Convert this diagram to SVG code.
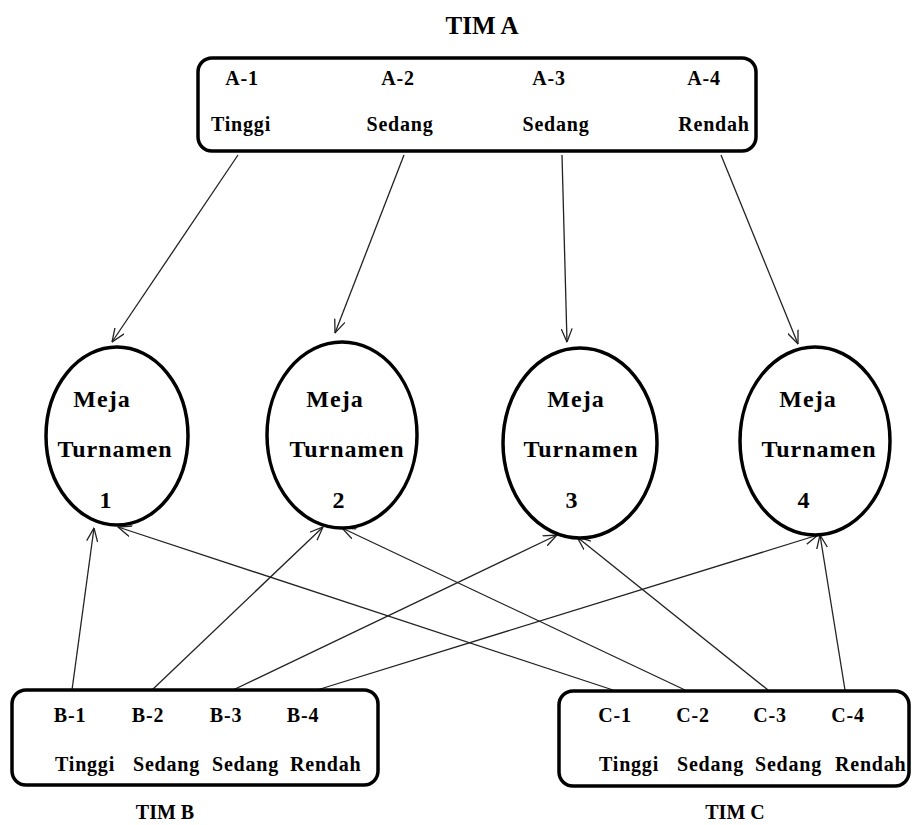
<svg xmlns="http://www.w3.org/2000/svg" width="912" height="825" viewBox="0 0 912 825">
<defs>
<style>
.t{font-family:"Liberation Serif","Times New Roman",serif;font-weight:bold;fill:#000}
.s{font-size:20px;letter-spacing:0.8px}
.e{font-size:24px;letter-spacing:1px;text-anchor:middle}
.m{text-anchor:middle}
.box{fill:#fff;stroke:#000;stroke-width:3.5}
.conn line{stroke:#222;stroke-width:1.3;fill:none;marker-end:url(#arr)}
</style>
<marker id="arr" viewBox="0 0 14 12" refX="13.5" refY="6" markerWidth="14" markerHeight="12" markerUnits="userSpaceOnUse" orient="auto">
<path d="M0,0.5 L13.5,6 L0,11.5" fill="none" stroke="#222" stroke-width="1.3"/>
</marker>
</defs>
<rect width="912" height="825" fill="#fff"/>

<g class="conn" id="connectors">
<line x1="238" y1="155" x2="112" y2="342"/>
<line x1="404" y1="155" x2="335" y2="333"/>
<line x1="562" y1="155" x2="567" y2="342"/>
<line x1="721" y1="155" x2="798" y2="344"/>
<line x1="72" y1="690" x2="94" y2="528"/>
<line x1="152" y1="690" x2="323" y2="527"/>
<line x1="233" y1="690" x2="557" y2="535"/>
<line x1="317" y1="690" x2="818" y2="535"/>
<line x1="613" y1="690" x2="118" y2="527"/>
<line x1="685" y1="690" x2="342" y2="528"/>
<line x1="768" y1="690" x2="577" y2="537"/>
<line x1="845" y1="690" x2="820" y2="535"/>
</g>

<g id="timA">
<text class="t m" x="482" y="34" font-size="25">TIM A</text>
<rect class="box" x="198" y="58" width="558" height="93" rx="14"/>
<text class="t s m" x="242" y="85">A-1</text>
<text class="t s m" x="398" y="85">A-2</text>
<text class="t s m" x="549" y="85">A-3</text>
<text class="t s m" x="704" y="85">A-4</text>
<text class="t s m" x="241" y="131">Tinggi</text>
<text class="t s m" x="400" y="131">Sedang</text>
<text class="t s m" x="556" y="131">Sedang</text>
<text class="t s m" x="714" y="131">Rendah</text>
</g>

<g id="meja1">
<ellipse class="box" cx="117" cy="436" rx="71" ry="89"/>
<text class="t e" x="102" y="407">Meja</text>
<text class="t e" x="115" y="457">Turnamen</text>
<text class="t e" x="106" y="508">1</text>
</g>
<g id="meja2">
<ellipse class="box" cx="342" cy="435" rx="75" ry="93"/>
<text class="t e" x="335" y="407">Meja</text>
<text class="t e" x="347" y="457">Turnamen</text>
<text class="t e" x="339" y="508">2</text>
</g>
<g id="meja3">
<ellipse class="box" cx="580" cy="443" rx="77" ry="95"/>
<text class="t e" x="576" y="407">Meja</text>
<text class="t e" x="581" y="457">Turnamen</text>
<text class="t e" x="572" y="508">3</text>
</g>
<g id="meja4">
<ellipse class="box" cx="815" cy="441" rx="75" ry="94"/>
<text class="t e" x="808" y="407">Meja</text>
<text class="t e" x="819" y="457">Turnamen</text>
<text class="t e" x="804" y="508">4</text>
</g>

<g id="timB">
<rect class="box" x="12" y="690" width="366" height="95" rx="14"/>
<text class="t s m" x="70" y="722">B-1</text>
<text class="t s m" x="148" y="722">B-2</text>
<text class="t s m" x="226" y="722">B-3</text>
<text class="t s m" x="303" y="722">B-4</text>
<text class="t s" x="55" y="771">Tinggi</text>
<text class="t s" x="133" y="771">Sedang</text>
<text class="t s" x="212" y="771">Sedang</text>
<text class="t s" x="290" y="771">Rendah</text>
<text class="t m" x="165" y="819" font-size="20">TIM B</text>
</g>

<g id="timC">
<rect class="box" x="559" y="691" width="350" height="95" rx="14"/>
<text class="t s m" x="615" y="722">C-1</text>
<text class="t s m" x="693" y="722">C-2</text>
<text class="t s m" x="770" y="722">C-3</text>
<text class="t s m" x="848" y="722">C-4</text>
<text class="t s" x="599" y="771">Tinggi</text>
<text class="t s" x="677" y="771">Sedang</text>
<text class="t s" x="755" y="771">Sedang</text>
<text class="t s" x="835" y="771">Rendah</text>
<text class="t m" x="735" y="819" font-size="20">TIM C</text>
</g>
</svg>
